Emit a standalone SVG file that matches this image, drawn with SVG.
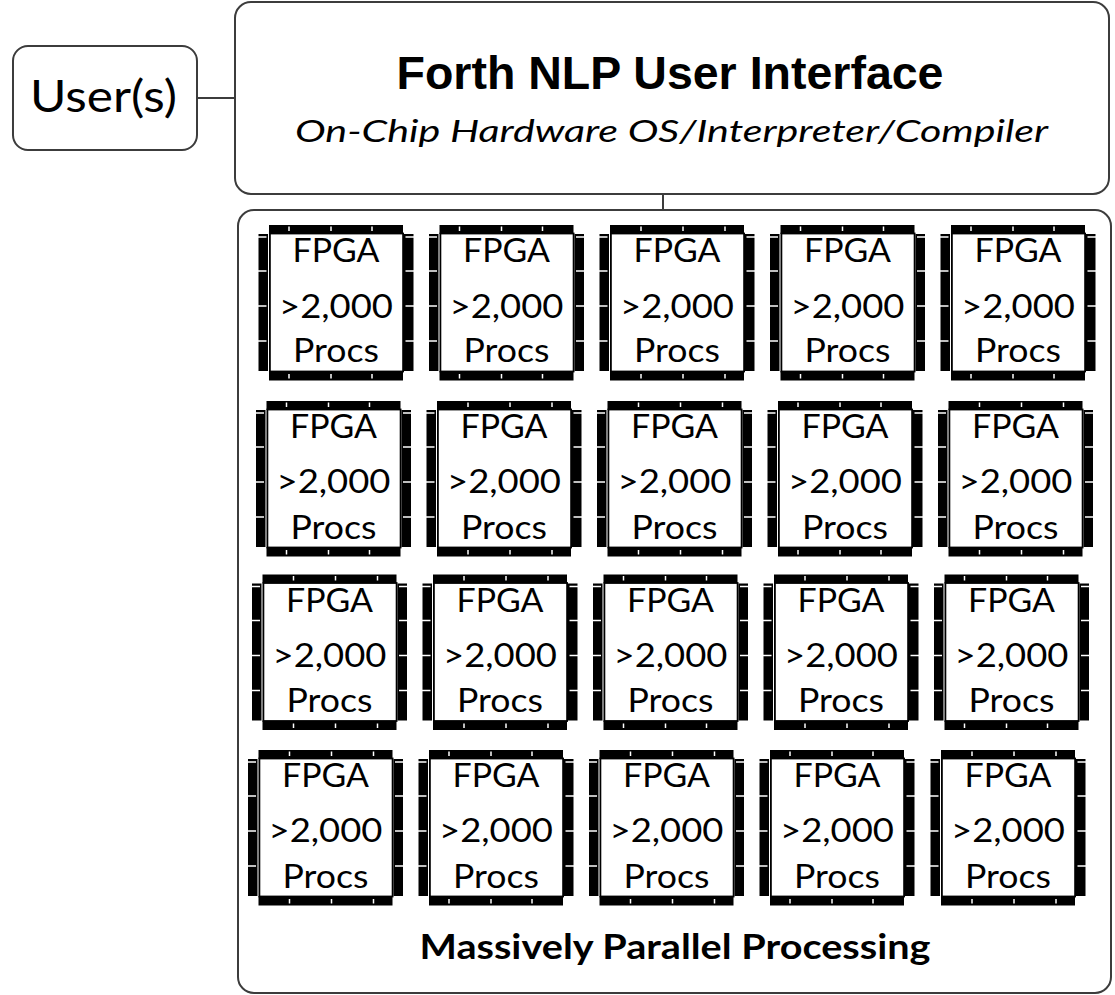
<svg xmlns="http://www.w3.org/2000/svg" width="1115" height="995" viewBox="0 0 1115 995">
  <style>
    .box { fill: #ffffff; stroke: #3c3c3c; stroke-width: 2; }
    .link { fill: none; stroke: #3c3c3c; stroke-width: 2; }
    .chip-t { font-family: Lato, "Open Sans", "Liberation Sans", sans-serif; font-size: 32px; fill: #000; text-anchor: middle; }
    .title { font-family: "Liberation Sans", Arial, sans-serif; font-weight: bold; font-size: 46.5px; fill: #000; text-anchor: middle; }
    .sub { font-family: Lato, "Open Sans", sans-serif; font-style: italic; font-size: 30.5px; fill: #000; text-anchor: middle; }
    .user-t { font-family: Lato, "Open Sans", sans-serif; font-size: 45px; fill: #000; }
    .mpp { font-family: Lato, "Open Sans", sans-serif; font-weight: bold; font-size: 35px; fill: #000; text-anchor: middle; }
    .pin { fill: #000; }
    .tick { stroke: #fff; stroke-width: 1.5; }
  </style>
  <defs>
    <!-- chip package: white die outline with pin strips on all four sides -->
    <g id="chip-body">
      <rect class="pin" x="10" y="0" width="134" height="9"/>
      <rect class="pin" x="10" y="146" width="134" height="9.5"/>
      <rect class="pin" x="-0.5" y="9" width="9.5" height="137"/>
      <rect class="pin" x="145" y="9" width="9.5" height="137"/>
      <rect x="10.9" y="8.5" width="133.2" height="138" fill="#fff" stroke="#000" stroke-width="1.8"/>
      <g class="tick">
        <line x1="-1" y1="12" x2="7.5" y2="12"/>
        <line x1="-1" y1="46" x2="7.5" y2="46"/>
        <line x1="-1" y1="81" x2="7.5" y2="81"/>
        <line x1="-1" y1="116" x2="7.5" y2="116"/>
        <line x1="146.5" y1="12" x2="155" y2="12"/>
        <line x1="146.5" y1="46" x2="155" y2="46"/>
        <line x1="146.5" y1="81" x2="155" y2="81"/>
        <line x1="146.5" y1="116" x2="155" y2="116"/>
      </g>
    </g>
    <g id="chip-a">
      <use href="#chip-body"/>
      <g class="tick">
        <line x1="30" y1="1.5" x2="30" y2="6"/>
        <line x1="72" y1="1.5" x2="72" y2="6"/>
        <line x1="113" y1="1.5" x2="113" y2="6"/>
        <line x1="30" y1="149" x2="30" y2="153.5"/>
        <line x1="72" y1="149" x2="72" y2="153.5"/>
        <line x1="113" y1="149" x2="113" y2="153.5"/>
      </g>
    </g>
    <g id="chip-b">
      <use href="#chip-body"/>
      <g class="tick">
        <line x1="41" y1="1.5" x2="41" y2="6"/>
        <line x1="83" y1="1.5" x2="83" y2="6"/>
        <line x1="125" y1="1.5" x2="125" y2="6"/>
        <line x1="41" y1="149" x2="41" y2="153.5"/>
        <line x1="83" y1="149" x2="83" y2="153.5"/>
        <line x1="125" y1="149" x2="125" y2="153.5"/>
      </g>
    </g>
  </defs>

  <rect width="1115" height="995" fill="#ffffff"/>

  <!-- connectors -->
  <g id="connectors">
    <line class="link" x1="197" y1="98" x2="235" y2="98"/>
    <line class="link" x1="663" y1="194" x2="663" y2="210"/>
  </g>

  <g id="users">
    <rect class="box" x="13" y="46" width="184" height="104" rx="15"/>
    <text class="user-t" x="30" y="112" textLength="147" lengthAdjust="spacingAndGlyphs">User(s)</text>
  </g>

  <g id="nlp-interface">
    <rect class="box" x="235" y="2" width="874" height="192" rx="16"/>
    <text class="title" x="670" y="88.5">Forth NLP User Interface</text>
    <text class="sub" x="671.5" y="142" textLength="753" lengthAdjust="spacingAndGlyphs">On-Chip Hardware OS/Interpreter/Compiler</text>
  </g>

  <g id="parallel-processing">
    <rect class="box" x="238" y="210" width="873" height="783" rx="16"/>
    <text class="mpp" x="675" y="959" textLength="511" lengthAdjust="spacingAndGlyphs">Massively Parallel Processing</text>

    <!-- row 1 -->
    <g id="fpga-1-1" transform="translate(259,225)"><use href="#chip-a"/><text class="chip-t" x="77" y="37" textLength="87" lengthAdjust="spacingAndGlyphs">FPGA</text><text class="chip-t" x="77" y="93" textLength="114" lengthAdjust="spacingAndGlyphs">&gt;2,000</text><text class="chip-t" x="77" y="137" textLength="86" lengthAdjust="spacingAndGlyphs">Procs</text></g>
    <g id="fpga-1-2" transform="translate(429.5,225)"><use href="#chip-a"/><text class="chip-t" x="77" y="37" textLength="87" lengthAdjust="spacingAndGlyphs">FPGA</text><text class="chip-t" x="77" y="93" textLength="114" lengthAdjust="spacingAndGlyphs">&gt;2,000</text><text class="chip-t" x="77" y="137" textLength="86" lengthAdjust="spacingAndGlyphs">Procs</text></g>
    <g id="fpga-1-3" transform="translate(600,225)"><use href="#chip-b"/><text class="chip-t" x="77" y="37" textLength="87" lengthAdjust="spacingAndGlyphs">FPGA</text><text class="chip-t" x="77" y="93" textLength="114" lengthAdjust="spacingAndGlyphs">&gt;2,000</text><text class="chip-t" x="77" y="137" textLength="86" lengthAdjust="spacingAndGlyphs">Procs</text></g>
    <g id="fpga-1-4" transform="translate(770.5,225)"><use href="#chip-a"/><text class="chip-t" x="77" y="37" textLength="87" lengthAdjust="spacingAndGlyphs">FPGA</text><text class="chip-t" x="77" y="93" textLength="114" lengthAdjust="spacingAndGlyphs">&gt;2,000</text><text class="chip-t" x="77" y="137" textLength="86" lengthAdjust="spacingAndGlyphs">Procs</text></g>
    <g id="fpga-1-5" transform="translate(941,225)"><use href="#chip-a"/><text class="chip-t" x="77" y="37" textLength="87" lengthAdjust="spacingAndGlyphs">FPGA</text><text class="chip-t" x="77" y="93" textLength="114" lengthAdjust="spacingAndGlyphs">&gt;2,000</text><text class="chip-t" x="77" y="137" textLength="86" lengthAdjust="spacingAndGlyphs">Procs</text></g>

    <!-- row 2 -->
    <g id="fpga-2-1" transform="translate(256.5,401)"><use href="#chip-a"/><text class="chip-t" x="77" y="37" textLength="87" lengthAdjust="spacingAndGlyphs">FPGA</text><text class="chip-t" x="77" y="92" textLength="114" lengthAdjust="spacingAndGlyphs">&gt;2,000</text><text class="chip-t" x="77" y="138" textLength="86" lengthAdjust="spacingAndGlyphs">Procs</text></g>
    <g id="fpga-2-2" transform="translate(427,401)"><use href="#chip-b"/><text class="chip-t" x="77" y="37" textLength="87" lengthAdjust="spacingAndGlyphs">FPGA</text><text class="chip-t" x="77" y="92" textLength="114" lengthAdjust="spacingAndGlyphs">&gt;2,000</text><text class="chip-t" x="77" y="138" textLength="86" lengthAdjust="spacingAndGlyphs">Procs</text></g>
    <g id="fpga-2-3" transform="translate(597.5,401)"><use href="#chip-b"/><text class="chip-t" x="77" y="37" textLength="87" lengthAdjust="spacingAndGlyphs">FPGA</text><text class="chip-t" x="77" y="92" textLength="114" lengthAdjust="spacingAndGlyphs">&gt;2,000</text><text class="chip-t" x="77" y="138" textLength="86" lengthAdjust="spacingAndGlyphs">Procs</text></g>
    <g id="fpga-2-4" transform="translate(768,401)"><use href="#chip-a"/><text class="chip-t" x="77" y="37" textLength="87" lengthAdjust="spacingAndGlyphs">FPGA</text><text class="chip-t" x="77" y="92" textLength="114" lengthAdjust="spacingAndGlyphs">&gt;2,000</text><text class="chip-t" x="77" y="138" textLength="86" lengthAdjust="spacingAndGlyphs">Procs</text></g>
    <g id="fpga-2-5" transform="translate(938.5,401)"><use href="#chip-b"/><text class="chip-t" x="77" y="37" textLength="87" lengthAdjust="spacingAndGlyphs">FPGA</text><text class="chip-t" x="77" y="92" textLength="114" lengthAdjust="spacingAndGlyphs">&gt;2,000</text><text class="chip-t" x="77" y="138" textLength="86" lengthAdjust="spacingAndGlyphs">Procs</text></g>

    <!-- row 3 -->
    <g id="fpga-3-1" transform="translate(252.5,574.5)"><use href="#chip-b"/><text class="chip-t" x="77" y="37" textLength="87" lengthAdjust="spacingAndGlyphs">FPGA</text><text class="chip-t" x="77" y="92" textLength="114" lengthAdjust="spacingAndGlyphs">&gt;2,000</text><text class="chip-t" x="77" y="137" textLength="86" lengthAdjust="spacingAndGlyphs">Procs</text></g>
    <g id="fpga-3-2" transform="translate(423,574.5)"><use href="#chip-b"/><text class="chip-t" x="77" y="37" textLength="87" lengthAdjust="spacingAndGlyphs">FPGA</text><text class="chip-t" x="77" y="92" textLength="114" lengthAdjust="spacingAndGlyphs">&gt;2,000</text><text class="chip-t" x="77" y="137" textLength="86" lengthAdjust="spacingAndGlyphs">Procs</text></g>
    <g id="fpga-3-3" transform="translate(593.5,574.5)"><use href="#chip-a"/><text class="chip-t" x="77" y="37" textLength="87" lengthAdjust="spacingAndGlyphs">FPGA</text><text class="chip-t" x="77" y="92" textLength="114" lengthAdjust="spacingAndGlyphs">&gt;2,000</text><text class="chip-t" x="77" y="137" textLength="86" lengthAdjust="spacingAndGlyphs">Procs</text></g>
    <g id="fpga-3-4" transform="translate(764,574.5)"><use href="#chip-b"/><text class="chip-t" x="77" y="37" textLength="87" lengthAdjust="spacingAndGlyphs">FPGA</text><text class="chip-t" x="77" y="92" textLength="114" lengthAdjust="spacingAndGlyphs">&gt;2,000</text><text class="chip-t" x="77" y="137" textLength="86" lengthAdjust="spacingAndGlyphs">Procs</text></g>
    <g id="fpga-3-5" transform="translate(934.5,574.5)"><use href="#chip-a"/><text class="chip-t" x="77" y="37" textLength="87" lengthAdjust="spacingAndGlyphs">FPGA</text><text class="chip-t" x="77" y="92" textLength="114" lengthAdjust="spacingAndGlyphs">&gt;2,000</text><text class="chip-t" x="77" y="137" textLength="86" lengthAdjust="spacingAndGlyphs">Procs</text></g>

    <!-- row 4 -->
    <g id="fpga-4-1" transform="translate(248.5,750)"><use href="#chip-b"/><text class="chip-t" x="77" y="37" textLength="87" lengthAdjust="spacingAndGlyphs">FPGA</text><text class="chip-t" x="77" y="92" textLength="114" lengthAdjust="spacingAndGlyphs">&gt;2,000</text><text class="chip-t" x="77" y="138" textLength="86" lengthAdjust="spacingAndGlyphs">Procs</text></g>
    <g id="fpga-4-2" transform="translate(419,750)"><use href="#chip-a"/><text class="chip-t" x="77" y="37" textLength="87" lengthAdjust="spacingAndGlyphs">FPGA</text><text class="chip-t" x="77" y="92" textLength="114" lengthAdjust="spacingAndGlyphs">&gt;2,000</text><text class="chip-t" x="77" y="138" textLength="86" lengthAdjust="spacingAndGlyphs">Procs</text></g>
    <g id="fpga-4-3" transform="translate(589.5,750)"><use href="#chip-b"/><text class="chip-t" x="77" y="37" textLength="87" lengthAdjust="spacingAndGlyphs">FPGA</text><text class="chip-t" x="77" y="92" textLength="114" lengthAdjust="spacingAndGlyphs">&gt;2,000</text><text class="chip-t" x="77" y="138" textLength="86" lengthAdjust="spacingAndGlyphs">Procs</text></g>
    <g id="fpga-4-4" transform="translate(760,750)"><use href="#chip-a"/><text class="chip-t" x="77" y="37" textLength="87" lengthAdjust="spacingAndGlyphs">FPGA</text><text class="chip-t" x="77" y="92" textLength="114" lengthAdjust="spacingAndGlyphs">&gt;2,000</text><text class="chip-t" x="77" y="138" textLength="86" lengthAdjust="spacingAndGlyphs">Procs</text></g>
    <g id="fpga-4-5" transform="translate(931,750)"><use href="#chip-b"/><text class="chip-t" x="77" y="37" textLength="87" lengthAdjust="spacingAndGlyphs">FPGA</text><text class="chip-t" x="77" y="92" textLength="114" lengthAdjust="spacingAndGlyphs">&gt;2,000</text><text class="chip-t" x="77" y="138" textLength="86" lengthAdjust="spacingAndGlyphs">Procs</text></g>
  </g>
</svg>
